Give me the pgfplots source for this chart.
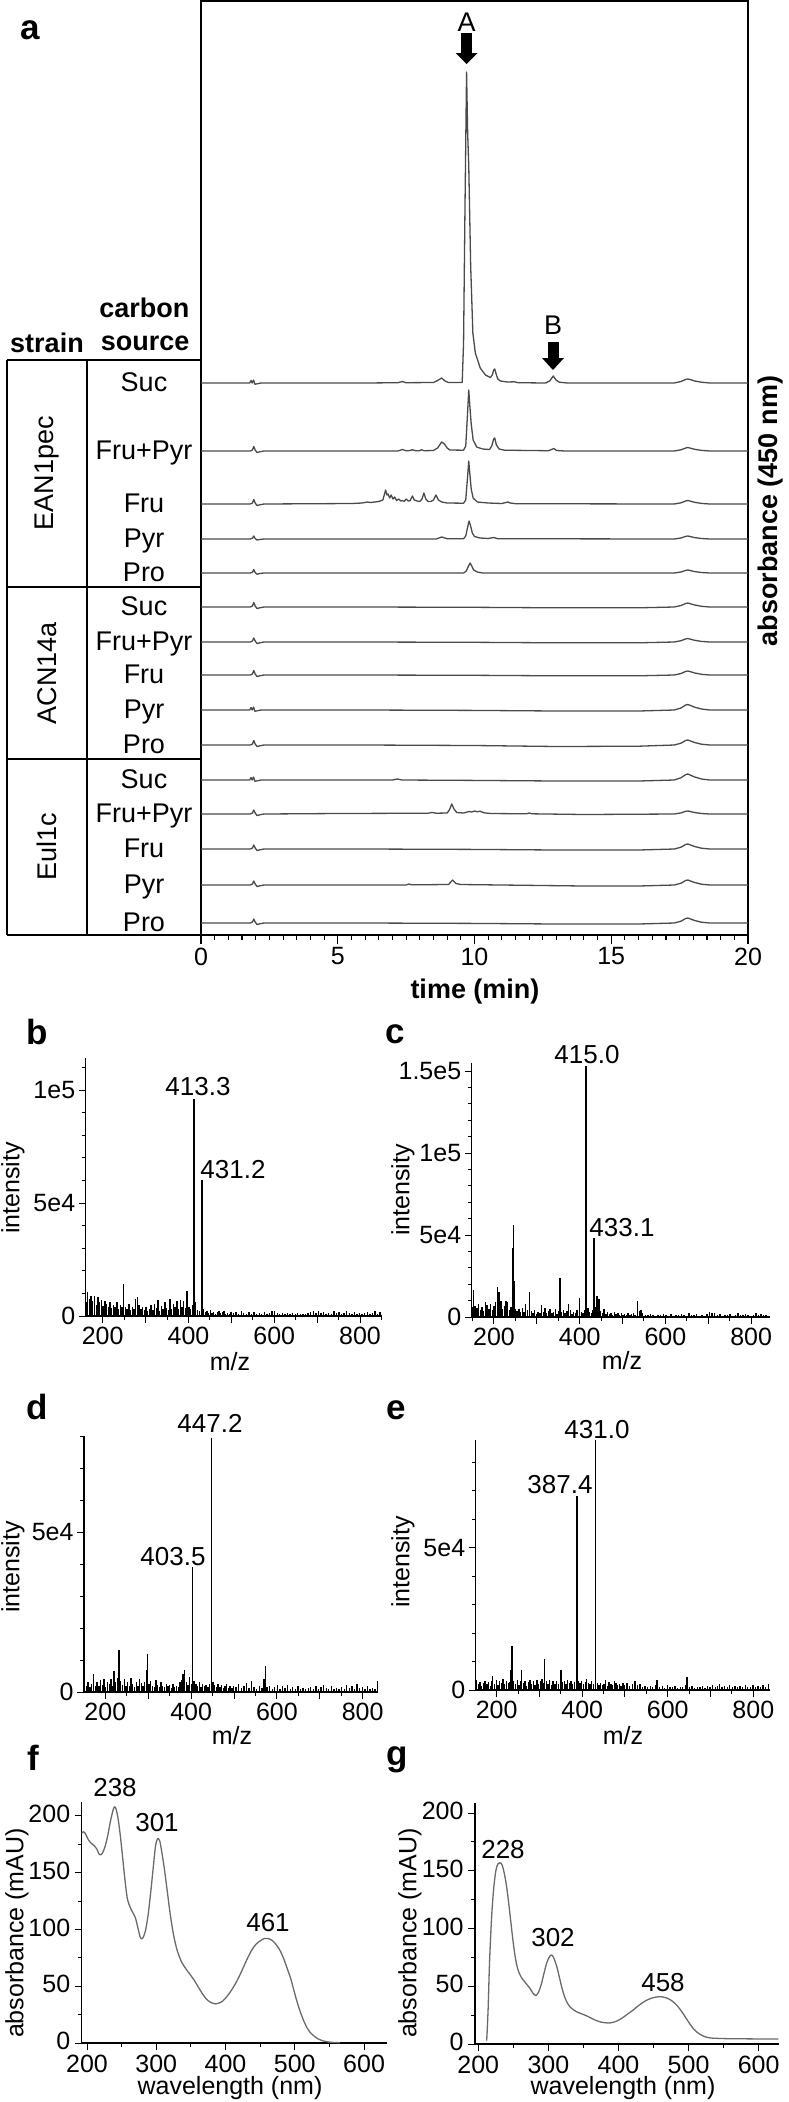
\documentclass[border=0pt]{standalone}
\usepackage{pgfplots}
\pgfplotsset{compat=1.18}
\usepackage{fontspec}
\setmainfont{Liberation Sans}
\newcommand\fL{\fontsize{35}{40}\selectfont\bfseries}
\newcommand\fR{\fontsize{27}{31}\selectfont}
\newcommand\fT{\fontsize{25}{29}\selectfont}
\newcommand\fP{\fontsize{26}{30}\selectfont}
\newcommand\fB{\fontsize{27}{31}\selectfont\bfseries}
\definecolor{trace}{HTML}{4A4A4A}
\definecolor{uvgray}{HTML}{6A6A6A}
\pgfplotsset{
  /pgf/number format/assume math mode=true,
  trace/.style={color=trace, line width=1.3pt, mark=none, line join=round},
  stick/.style={ycomb, black, line width=1.35pt, mark=none},
  ms/.style={scale only axis, axis lines=left, axis line style={-, line width=1.2pt},
    tick align=outside, major tick length=7pt, minor tick length=4pt,
    every tick/.style={black, line width=1pt}, tick label style={font=\fT},
    scaled y ticks=false, xtick={200,300,...,800}, xticklabels={200,,400,,600,,800},
    minor xtick={150,250,...,850}},
  uv/.style={scale only axis, axis lines=left, axis line style={-, line width=1.2pt},
    tick align=outside, major tick length=7pt, minor tick length=4pt,
    every tick/.style={black, line width=1pt}, tick label style={font=\fT},
    yticklabel style={xshift=-1pt, yshift=2pt}, xticklabel style={yshift=-1pt},
    xtick={200,300,...,600}, minor xtick={250,350,450,550},
    ytick={0,50,...,200}, minor ytick={25,75,125,175}},
}
\begin{document}
\begin{tikzpicture}
\path[use as bounding box] (0pt,0pt) rectangle (789pt,-2102pt);

% ================= panel a =================
\begin{axis}[at={(201pt,-935pt)}, anchor=south west, scale only axis,
  width=547pt, height=934pt, xmin=0, xmax=20, ymin=0, ymax=934,
  xtick={0,5,10,15,20}, minor xtick={0.5,1,...,19.5}, ytick=\empty,
  xtick pos=left, tick align=outside, major tick length=9pt, minor tick length=5pt,
  axis line style={line width=1.4pt}, every tick/.style={black, line width=1.1pt},
  xticklabel style={font=\fT}]
% EAN1pec
\addplot[trace, y filter/.expression={y+552}] coordinates {(0,0) (1.78,0) (1.83,2.5) (1.87,0) (1.92,3) (1.97,-1.2) (2.05,-0.8) (2.2,0) (6.0,0) (7.2,0.3) (7.36,1.5) (7.5,0.3) (8.5,0.5) (8.65,2.5) (8.8,5) (8.92,2) (9.05,0.5) (9.55,0.5) (9.6,40) (9.65,170) (9.71,311) (9.75,250) (9.79,217) (9.86,117) (9.94,50) (10.03,30) (10.21,15) (10.4,8) (10.58,5.5) (10.65,8) (10.7,13) (10.74,14) (10.78,10) (10.85,4) (10.95,2) (11.2,1) (11.45,1.2) (11.6,0.3) (12.6,0) (12.75,2) (12.88,7) (12.98,3) (13.1,0.8) (13.4,0) (17.3,0) (17.55,1.5) (17.72,3.6) (17.8,4) (17.9,3.4) (18.05,2) (18.3,0.8) (18.6,0) (20,0)};
\addplot[trace, y filter/.expression={y+484}] coordinates {(0,0) (1.8,0) (1.88,1) (1.93,4.5) (1.98,1) (2.05,-1.5) (2.15,-0.8) (2.3,0) (7.2,0) (7.36,1.5) (7.5,0.3) (7.6,0.3) (7.73,1.2) (7.85,0.3) (8.0,0.3) (8.06,1.3) (8.15,0.3) (8.5,0.5) (8.65,3) (8.8,9) (8.9,7) (9.0,3) (9.1,1) (9.6,0.8) (9.68,5) (9.74,35) (9.79,61) (9.83,45) (9.88,27) (9.95,11) (10.08,4) (10.3,2) (10.55,1.5) (10.63,5) (10.7,12) (10.74,13) (10.8,6) (10.9,2) (11.1,0.8) (12.7,0.3) (12.82,1.5) (12.9,2.5) (13.0,0.5) (13.3,0) (17.3,0) (17.55,1.2) (17.72,3) (17.8,3.5) (17.9,2.8) (18.05,1.7) (18.3,0.6) (18.6,0) (20,0)};
\addplot[trace, y filter/.expression={y+431}] coordinates {(0,0) (1.8,0) (1.88,1) (1.93,4.5) (1.98,1) (2.05,-1.5) (2.15,-0.8) (2.3,0) (5.5,0.5) (5.9,1) (6.07,2) (6.2,1.5) (6.5,2.5) (6.65,4) (6.75,14) (6.8,9) (6.84,10) (6.9,6) (6.95,9) (7.02,5) (7.08,7) (7.15,3.5) (7.23,5) (7.3,3) (7.36,3.5) (7.43,2.5) (7.5,5) (7.58,3) (7.65,3.5) (7.73,8) (7.8,4) (7.9,3) (8.0,2.5) (8.08,5) (8.15,11) (8.22,5) (8.3,2.5) (8.4,2.5) (8.5,4) (8.59,9) (8.68,4) (8.8,2) (9.0,1) (9.6,0.8) (9.68,4) (9.74,25) (9.79,43) (9.83,30) (9.88,15) (9.95,6) (10.1,2) (10.5,1) (11.0,0.5) (11.15,1.5) (11.22,2) (11.3,1) (11.5,0.3) (17.3,0) (17.55,1.2) (17.72,3) (17.8,3.5) (17.9,2.8) (18.05,1.7) (18.3,0.6) (18.6,0) (20,0)};
\addplot[trace, y filter/.expression={y+396}] coordinates {(0,0) (1.8,0) (1.88,0.8) (1.93,3) (1.98,0.5) (2.05,-1) (2.15,-0.5) (2.3,0) (8.6,0) (8.8,2) (9.0,0.3) (9.6,0.3) (9.68,3) (9.75,12) (9.8,18) (9.85,14) (9.92,6) (10.0,2.5) (10.2,1) (10.5,0.5) (10.7,1.5) (10.85,0.3) (17.3,0) (17.55,1) (17.72,2.6) (17.8,3) (17.9,2.4) (18.05,1.4) (18.3,0.5) (18.6,0) (20,0)};
\addplot[trace, y filter/.expression={y+362}] coordinates {(0,0) (1.8,0) (1.88,0.8) (1.93,3.5) (1.98,0.5) (2.05,-1.2) (2.15,-0.5) (2.3,0) (9.6,0) (9.7,2) (9.78,7) (9.84,10) (9.9,7) (9.97,3) (10.1,1) (10.3,0) (17.3,0) (17.55,1) (17.72,2.6) (17.8,3) (17.9,2.4) (18.05,1.4) (18.3,0.5) (18.6,0) (20,0)};
% ACN14a
\addplot[trace, y filter/.expression={y+328}] coordinates {(0,0) (1.8,0) (1.88,1) (1.93,4.5) (1.98,1) (2.05,-1.5) (2.15,-0.8) (2.3,0) (6,0) (10,-0.3) (13,-0.8) (16,-0.8) (17.3,0) (17.55,1.5) (17.72,3.5) (17.8,4) (17.9,3.2) (18.05,2) (18.3,0.7) (18.6,0) (20,0)};
\addplot[trace, y filter/.expression={y+293}] coordinates {(0,0) (1.8,0) (1.88,1) (1.93,4) (1.98,1) (2.05,-1.5) (2.15,-0.8) (2.3,0) (6,0) (10,-0.3) (13,-0.8) (16,-0.8) (17.3,0) (17.55,1.3) (17.72,3.1) (17.8,3.5) (17.9,2.8) (18.05,1.7) (18.3,0.6) (18.6,0) (20,0)};
\addplot[trace, y filter/.expression={y+260}] coordinates {(0,0) (1.8,0) (1.88,1) (1.93,4.5) (1.98,1) (2.05,-1.5) (2.15,-0.8) (2.3,0) (6,0) (10,-0.3) (13,-0.8) (16,-0.8) (17.3,0) (17.55,1.5) (17.72,3.6) (17.8,4) (17.9,3.3) (18.05,2) (18.3,0.7) (18.6,0) (20,0)};
\addplot[trace, y filter/.expression={y+225}] coordinates {(0,0) (1.78,0) (1.83,2.5) (1.87,0) (1.92,3) (1.97,-1.2) (2.05,-0.8) (2.2,0) (6,0) (10,-0.4) (13,-1) (16,-1) (17.3,0) (17.55,2) (17.72,5) (17.8,5.5) (17.9,4.5) (18.05,2.8) (18.3,1) (18.6,0) (20,0)};
\addplot[trace, y filter/.expression={y+190}] coordinates {(0,0) (1.8,0) (1.88,1) (1.93,4.5) (1.98,1) (2.05,-1.5) (2.15,-0.8) (2.3,0) (6,0) (10,-0.5) (13,-1.5) (16,-1.2) (17.3,0) (17.55,1.8) (17.72,4.5) (17.8,5) (17.9,4) (18.05,2.5) (18.3,0.8) (18.6,0) (20,0)};
% Eul1c
\addplot[trace, y filter/.expression={y+155}] coordinates {(0,0) (1.78,0) (1.83,2.5) (1.87,0) (1.92,3) (1.97,-1.2) (2.05,-0.8) (2.2,0) (7.0,0) (7.18,1) (7.35,0) (10,-0.4) (13,-1) (16,-1) (17.3,0) (17.55,2.2) (17.72,5.4) (17.8,6) (17.9,4.8) (18.05,3) (18.3,1) (18.6,0) (20,0)};
\addplot[trace, y filter/.expression={y+121}] coordinates {(0,0) (1.8,0) (1.88,1) (1.93,4) (1.98,1) (2.05,-1.5) (2.15,-0.8) (2.3,0) (5,0.5) (8.3,0.8) (8.45,1.5) (8.6,0.8) (9.0,1) (9.08,4) (9.17,10) (9.25,5) (9.35,1.5) (9.6,1) (9.8,2.5) (9.9,2) (10.0,3) (10.1,2.2) (10.2,2.8) (10.35,1.2) (10.6,0.5) (11.9,0.2) (12.0,1) (12.1,0.2) (14,-0.5) (17.3,0) (17.55,1.1) (17.72,2.7) (17.8,3) (17.9,2.4) (18.05,1.5) (18.3,0.5) (18.6,0) (20,0)};
\addplot[trace, y filter/.expression={y+86}] coordinates {(0,0) (1.8,0) (1.88,1) (1.93,4) (1.98,1) (2.05,-1.5) (2.15,-0.8) (2.3,0) (6,0) (10,-0.4) (13,-1) (16,-1) (17.3,0) (17.55,1.8) (17.72,4.5) (17.8,5) (17.9,4) (18.05,2.5) (18.3,0.8) (18.6,0) (20,0)};
\addplot[trace, y filter/.expression={y+50}] coordinates {(0,0) (1.8,0) (1.88,1) (1.93,4) (1.98,1) (2.05,-1.5) (2.15,-0.8) (2.3,0) (7.5,0) (7.6,1) (7.7,0.2) (9.05,0.5) (9.2,5) (9.32,1.5) (9.5,0.5) (11,0) (14,-1) (16,-1) (17.3,0) (17.55,1.8) (17.72,4.5) (17.8,5) (17.9,4) (18.05,2.5) (18.3,0.8) (18.6,0) (20,0)};
\addplot[trace, y filter/.expression={y+12}] coordinates {(0,0) (1.8,0) (1.88,1) (1.93,4) (1.98,1) (2.05,-1.5) (2.15,-0.8) (2.3,0) (6,0) (10,-0.4) (13,-1) (16,-1) (17.3,0) (17.55,1.8) (17.72,4.5) (17.8,5) (17.9,4) (18.05,2.5) (18.3,0.8) (18.6,0) (20,0)};
\end{axis}

% arrows and labels of panel a
\fill (461.2pt,-33pt) rectangle (472.2pt,-53pt);
\fill (455.7pt,-53pt) -- (477.7pt,-53pt) -- (466.7pt,-64pt) -- cycle;
\node[font=\fR] at (466.7pt,-22pt) {A};
\fill (547.5pt,-342pt) rectangle (558.5pt,-358pt);
\fill (542pt,-358pt) -- (564pt,-358pt) -- (553pt,-370pt) -- cycle;
\node[font=\fR] at (553pt,-325pt) {B};
\node[font=\fL, anchor=base] at (30pt,-39pt) {a};
\node[font=\fB, rotate=90] at (771pt,-511pt) {absorbance (450 nm)};
\node[font=\fB] at (475pt,-992pt) {time (min)};

% table
\begin{scope}[line width=1.4pt]
\draw (7pt,-360pt) -- (201pt,-360pt);
\draw (7pt,-587pt) -- (201pt,-587pt);
\draw (7pt,-759pt) -- (201pt,-759pt);
\draw (7pt,-935pt) -- (201pt,-935pt);
\draw (7pt,-360pt) -- (7pt,-935pt);
\draw (87pt,-360pt) -- (87pt,-935pt);
\end{scope}
\node[font=\fB, anchor=east] at (193pt,-308pt) {carbon};
\node[font=\fB, anchor=east] at (193pt,-343pt) {source};
\node[font=\fB] at (47pt,-343pt) {strain};
\node[font=\fR, rotate=90] at (47pt,-473pt) {EAN1pec};
\node[font=\fR, rotate=90] at (47pt,-673pt) {ACN14a};
\node[font=\fR, rotate=90] at (47pt,-847pt) {Eul1c};
\foreach \lab/\yy in {Suc/391, Fru+Pyr/459, Fru/512, Pyr/547, Pro/581,
                       Suc/615, Fru+Pyr/650, Fru/683, Pyr/718, Pro/753,
                       Suc/788, Fru+Pyr/822, Fru/857, Pyr/893, Pro/931}
  \node[font=\fR, anchor=base] at (144pt,-\yy pt) {\lab};

% ================= panel b =================
\begin{axis}[ms, at={(85.7pt,-1316pt)}, anchor=south west, width=296pt, height=258pt,
  xmin=160.4, xmax=850.6, ymin=0, ymax=114160,
  ytick={0,50000,100000}, yticklabels={0,5e4,1e5},
  minor ytick={10000,20000,30000,40000,60000,70000,80000,90000,110000}]
\addplot[stick] coordinates {(161,6000) (165,10800) (169,7500) (173,9000) (177,6500) (181,8800) (185,5000) (189,8500) (193,6000) (197,7200) (201,4500) (205,6800) (209,5200) (213,4000) (217,6200) (221,3500) (225,5000) (229,4200) (233,6000) (237,3000) (241,4800) (245,3800) (249,14000) (253,4200) (257,3000) (261,5500) (265,2800) (269,4000) (273,3200) (277,7500) (281,8200) (285,5000) (289,3000) (293,4200) (297,2500) (301,3800) (305,2200) (309,3000) (313,4800) (317,2600) (321,5500) (325,3500) (329,7000) (333,2400) (337,4500) (341,3000) (345,6200) (349,3400) (353,2800) (357,7500) (361,3000) (365,5200) (369,4000) (373,6800) (377,3000) (381,7000) (385,4200) (389,6500) (393,3500) (397,11000) (401,4000) (405,3000) (409,5000) (412.6,45000) (413.3,96000) (417,6000) (421,2500) (425,2000) (430.8,20000) (431.2,60000) (435,3000) (439,1800) (443,2200) (447,1500) (451,2500) (455,1200) (459,1800) (463,1000) (467,1600) (471,2200) (475,1200) (479,1800) (483,2400) (487,1000) (491,1500) (495,900) (499,1800) (505,1200) (511,1800) (517,1000) (523,2000) (529,1400) (535,900) (541,1600) (547,1100) (553,1900) (559,800) (565,1500) (571,1000) (577,1700) (583,900) (589,1300) (595,2000) (601,2400) (607,1200) (613,900) (619,1500) (625,800) (631,1300) (637,700) (643,1200) (649,900) (655,1500) (661,800) (667,1100) (673,700) (679,1300) (685,1600) (691,2200) (697,1500) (703,2000) (709,1200) (715,1800) (721,900) (727,1500) (733,1100) (739,2000) (745,1300) (751,1800) (757,1000) (763,1500) (769,2200) (775,1200) (781,900) (787,1600) (793,1000) (799,1500) (805,800) (811,1300) (817,1800) (823,1000) (829,1400) (835,2000) (841,1100) (847,1700)};
\end{axis}

% ================= panel c =================
\begin{axis}[ms, at={(471.7pt,-1317pt)}, anchor=south west, width=298.3pt, height=254pt,
  xmin=148, xmax=844, ymin=0, ymax=154878,
  ytick={0,50000,100000,150000}, yticklabels={0,5e4,1e5,1.5e5},
  minor ytick={10000,20000,30000,40000,60000,70000,80000,90000,110000,120000,130000,140000}]
\addplot[stick] coordinates {(150,6000) (152,16500) (156,7000) (160,5500) (164,8000) (168,4500) (172,6000) (176,3500) (180,9000) (184,7500) (188,5000) (192,8000) (196,4000) (200,6500) (204,9000) (208,18000) (212,15000) (216,9500) (220,5000) (224,7000) (228,9500) (232,9000) (236,4500) (240,6000) (244.5,42000) (245.5,56000) (247,22000) (250,5000) (254,3500) (258,4800) (262,3000) (266,5500) (270,2800) (274,8000) (278,4200) (283,15000) (287,3500) (291,2500) (295,4000) (299,2000) (303,3200) (307,2400) (311,7500) (315,3000) (319,5500) (323,2200) (327,3600) (331,4800) (335,2500) (339,3200) (343,5000) (347,2000) (351,3800) (354,24000) (358,3000) (362,4000) (366,2500) (370,3500) (374,8000) (378,4500) (382,2000) (386,3200) (390,2500) (394,4000) (400,11500) (404,3000) (408,2500) (411,4500) (414.5,42000) (415,153000) (419,5500) (423,3000) (427,2200) (430,4000) (433.1,48000) (436,6000) (440,13000) (445,11000) (449,3500) (453,2500) (457,5000) (461,2000) (465,3000) (469,1800) (473,2500) (477,1500) (481,2800) (485,1600) (489,2200) (493,1200) (497,2600) (501,1500) (505,2000) (509,1200) (513,2500) (517,1400) (521,1800) (525,2200) (529,1500) (535,10000) (539,3500) (543,4500) (547,2500) (553,1500) (559,1000) (565,2000) (571,1200) (577,800) (583,1500) (589,1000) (595,1800) (601,1300) (607,900) (613,1600) (619,700) (625,1400) (631,1000) (637,1800) (643,1200) (649,800) (655,2500) (661,1500) (667,1000) (673,1800) (679,700) (685,1300) (691,900) (697,2000) (703,3200) (709,2500) (715,2200) (721,1200) (727,1700) (733,900) (739,1400) (745,1000) (751,1800) (757,900) (763,1200) (769,2200) (775,1500) (781,1000) (787,2000) (793,1300) (799,900) (805,1500) (811,2400) (817,1200) (823,1800) (829,1000) (835,1300) (841,900)};
\end{axis}

% ================= panel d =================
\begin{axis}[ms, at={(84pt,-1692pt)}, anchor=south west, width=294.3pt, height=256pt,
  xmin=150.3, xmax=836.4, ymin=0, ymax=80000,
  ytick={0,50000}, yticklabels={0,5e4},
  minor ytick={10000,20000,30000,40000,60000,70000,80000}]
\addplot[stick] coordinates {(152,3500) (156,2000) (160,3000) (164,1500) (168,2500) (173,5500) (177,2000) (181,3000) (185,1800) (189,3800) (193,2200) (197,4000) (201,1500) (205,3000) (209,2400) (213,4200) (217,2000) (220,6500) (224,3000) (228,4500) (232,13000) (236,3500) (240,2200) (244,4000) (248,1800) (252,3000) (256,2000) (260,4500) (264,2500) (268,1500) (272,3200) (276,2000) (280,4200) (284,2800) (288,1800) (292,3000) (296,7000) (298,12000) (302,2500) (306,3500) (310,2000) (314,1500) (318,3800) (322,2200) (326,1700) (330,3000) (334,2000) (338,1500) (342,2500) (346,1800) (350,2200) (354,1400) (358,2600) (362,1500) (366,2000) (370,1600) (374,3000) (378,3800) (381,5500) (385,7000) (389,3000) (393,2200) (397,4800) (401,2500) (403,18000) (403.5,39000) (407,3500) (411,2500) (415,2000) (419,3000) (423,1600) (427,2400) (431,1800) (435,2200) (439,1500) (443,2600) (446.8,31000) (447.2,79500) (451,3000) (455,2200) (459,1500) (463,2400) (467,1600) (471,2200) (475,1200) (479,1800) (483,2600) (487,1400) (491,1800) (495,1200) (499,2000) (505,1500) (511,2400) (517,1200) (523,1800) (529,2800) (535,1200) (541,3500) (547,1500) (553,1000) (559,1800) (565,1200) (570,4000) (573,8000) (577,1500) (583,2000) (589,1000) (595,1600) (601,2200) (607,900) (613,1800) (619,1200) (625,2200) (631,800) (637,1500) (643,1000) (649,1800) (655,900) (661,1400) (667,800) (673,1200) (679,1600) (685,900) (691,2000) (697,1100) (703,1500) (709,2200) (715,1300) (721,900) (727,1800) (733,1000) (739,1300) (745,800) (751,1500) (757,1000) (763,2200) (769,1200) (775,1800) (781,1000) (787,2600) (793,1200) (799,1500) (805,900) (811,1800) (817,1100) (823,1400) (829,900) (834,3500)};
\end{axis}

% ================= panel e =================
\begin{axis}[ms, at={(475.7pt,-1690pt)}, anchor=south west, width=294.3pt, height=250pt,
  xmin=151, xmax=839, ymin=0, ymax=87843,
  ytick={0,50000}, yticklabels={0,5e4},
  minor ytick={10000,20000,30000,40000,60000,70000,80000}]
\addplot[stick] coordinates {(153,3500) (157,2000) (161,2800) (165,1500) (169,2500) (173,3200) (177,2000) (181,2800) (185,1500) (189,3000) (191,5000) (195,2200) (199,3500) (203,1800) (207,3000) (211,2400) (215,3800) (219,2000) (223,3200) (227,2600) (231,2800) (233,7000) (236,15500) (240,3000) (244,2200) (248,3600) (252,1800) (256,3000) (258,7000) (262,2500) (266,3200) (270,1500) (274,2800) (278,3500) (282,2000) (286,3000) (290,1600) (294,3500) (298,2200) (302,3000) (306,4000) (310,2500) (312,11000) (316,3000) (320,2200) (324,3500) (328,1800) (332,3000) (336,2200) (340,3200) (344,2000) (350,7000) (354,2800) (358,3000) (362,2000) (366,3400) (370,2400) (374,3000) (378,2200) (382,2800) (387,63000) (387.4,68000) (391,3000) (395,2500) (399,3200) (403,2000) (407,2800) (410,4000) (414,2400) (418,2000) (422,3000) (426,2200) (430.6,57000) (431,87700) (435,2600) (439,1800) (443,2400) (447,1600) (451,2200) (455,3500) (459,1500) (463,2800) (467,2200) (471,1600) (475,3000) (479,2400) (483,1800) (487,2200) (491,1500) (495,2600) (499,1800) (505,2600) (511,1500) (517,2200) (523,3000) (529,1600) (535,2000) (541,1200) (547,1400) (553,900) (559,1500) (565,1000) (571,1600) (575,3500) (581,1000) (587,1400) (593,800) (599,1800) (605,1200) (611,900) (617,1500) (623,800) (629,1200) (635,900) (641,1800) (645,4500) (651,1000) (657,1300) (663,800) (669,1200) (675,900) (681,1500) (687,800) (693,1300) (699,1000) (705,1600) (711,900) (717,1300) (721,2200) (727,1000) (733,1400) (739,900) (745,1600) (751,1100) (757,1400) (763,900) (769,1500) (775,1000) (781,1900) (787,1200) (793,1000) (799,1600) (805,1100) (811,1400) (817,900) (823,1700) (829,1100) (835,2200)};
\end{axis}

% ================= panel f =================
\begin{axis}[uv, at={(81.7pt,-2043pt)}, anchor=south west, width=305pt, height=241pt,
  xmin=192.3, xmax=632.7, ymin=0, ymax=212.3]
\addplot[color=uvgray, line width=1.3pt, mark=none, smooth] coordinates {(192,185) (195,186) (198,184) (202,179) (206,176) (210,174) (214,171) (218,166) (222,167) (226,173) (230,183) (234,196) (238,206) (240,208) (242,206) (245,197) (248,183) (251,166) (254,148) (258,128) (262,120) (266,115) (270,110) (274,100) (277,93) (280,92) (284,98) (288,112) (292,133) (296,157) (299,174) (302,180) (305,178) (308,168) (312,152) (316,133) (320,114) (325,95) (330,82) (336,72) (342,66) (348,61) (354,56) (360,50) (366,44) (372,39) (378,36) (385,34.5) (390,35) (396,37) (402,41) (408,46) (414,52) (420,59) (426,67) (432,75) (438,82) (444,87) (450,90) (456,92) (462,92) (468,90) (474,86) (480,80) (486,71) (490,64) (494,57) (498,48) (502,39) (506,31) (510,24) (514,18) (518,13) (522,9.5) (528,6) (534,3.5) (540,2) (548,1) (556,0.5) (565,0.3)};
\end{axis}

% ================= panel g =================
\begin{axis}[uv, at={(475pt,-2044pt)}, anchor=south west, width=304.3pt, height=241pt,
  xmin=195.3, xmax=629.4, ymin=0, ymax=208.7]
\addplot[color=uvgray, line width=1.3pt, mark=none, smooth] coordinates {(212,3) (214,30) (216,70) (219,110) (222,135) (225,150) (228,156) (231,157) (234,155) (237,148) (240,138) (243,124) (246,108) (249,92) (252,78) (255,68) (258,62) (262,57) (266,54) (270,51) (274,48) (278,44) (282,42) (286,45) (290,52) (294,62) (298,71) (302,76) (305,77) (308,74) (312,67) (316,57) (320,47) (325,38) (331,32) (340,28) (348,26) (356,24) (364,21.5) (372,19.5) (380,18.5) (388,18.3) (396,19.5) (404,22) (412,25.5) (420,29) (428,33) (436,36.5) (444,39) (452,40.5) (460,41) (468,40) (476,37.5) (484,33) (492,26.5) (500,19) (508,12.5) (516,8.5) (524,6.2) (532,5.2) (545,4.8) (560,4.6) (580,4.5) (600,4.4) (628,4.3)};
\end{axis}

% ---- letters and labels for b-g ----
\node[font=\fL, anchor=base] at (37pt,-1044pt) {b};
\node[font=\fL, anchor=base] at (395pt,-1043pt) {c};
\node[font=\fL, anchor=base] at (37pt,-1419pt) {d};
\node[font=\fL, anchor=base] at (396pt,-1419pt) {e};
\node[font=\fL, anchor=base] at (33pt,-1770pt) {f};
\node[font=\fL, anchor=base] at (397pt,-1765pt) {g};

\node[font=\fT, rotate=90] at (13pt,-1188pt) {intensity};
\node[font=\fT, rotate=90] at (403pt,-1190pt) {intensity};
\node[font=\fT, rotate=90] at (13pt,-1567pt) {intensity};
\node[font=\fT, rotate=90] at (403pt,-1562pt) {intensity};
\node[font=\fT] at (230pt,-1362pt) {m/z};
\node[font=\fT] at (622pt,-1361pt) {m/z};
\node[font=\fT] at (232pt,-1736pt) {m/z};
\node[font=\fT] at (623pt,-1736pt) {m/z};

\node[font=\fP] at (198pt,-1087pt) {413.3};
\node[font=\fP] at (233pt,-1170pt) {431.2};
\node[font=\fP] at (587pt,-1055pt) {415.0};
\node[font=\fP] at (622pt,-1228pt) {433.1};
\node[font=\fP] at (210pt,-1423pt) {447.2};
\node[font=\fP] at (173pt,-1557pt) {403.5};
\node[font=\fP] at (597pt,-1430pt) {431.0};
\node[font=\fP] at (560pt,-1485pt) {387.4};

\node[font=\fT, rotate=90] at (17pt,-1933pt) {absorbance (mAU)};
\node[font=\fT, rotate=90] at (410pt,-1933pt) {absorbance (mAU)};
\node[font=\fT] at (230pt,-2088pt) {wavelength (nm)};
\node[font=\fT] at (623pt,-2088pt) {wavelength (nm)};
\node[font=\fP] at (115pt,-1788pt) {238};
\node[font=\fP] at (157pt,-1823pt) {301};
\node[font=\fP] at (268pt,-1923pt) {461};
\node[font=\fP] at (503pt,-1850pt) {228};
\node[font=\fP] at (553pt,-1938pt) {302};
\node[font=\fP] at (663pt,-1983pt) {458};
\end{tikzpicture}
\end{document}
